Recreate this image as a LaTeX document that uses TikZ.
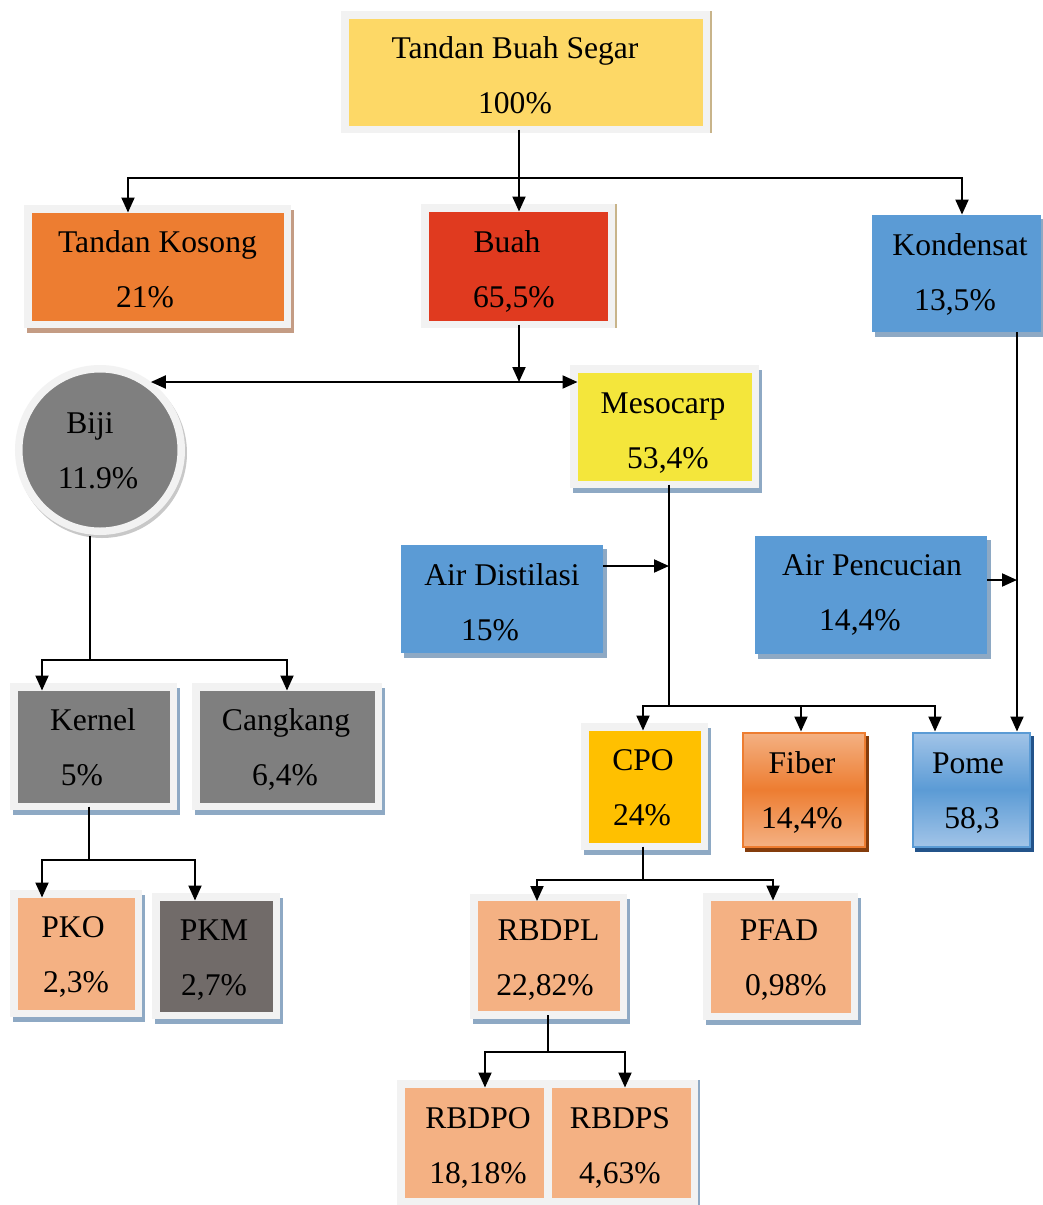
\documentclass[tikz,border=0pt]{standalone}
\usepackage{fontspec}
\setmainfont{Liberation Serif}
\usetikzlibrary{arrows.meta,calc}
\definecolor{frameC}{HTML}{F2F2F2}
\definecolor{tbsC}{HTML}{FDD866}
\definecolor{tkC}{HTML}{ED7D31}
\definecolor{buahC}{HTML}{E03A1F}
\definecolor{blueC}{HTML}{5B9BD5}
\definecolor{grayC}{HTML}{7F7F7F}
\definecolor{mesoC}{HTML}{F4E63B}
\definecolor{cpoC}{HTML}{FFC000}
\definecolor{peachC}{HTML}{F4B183}
\definecolor{pkmC}{HTML}{716B69}
\definecolor{shB}{HTML}{8EA9C4}
\definecolor{brC}{HTML}{C49C84}
\definecolor{tanC}{HTML}{C8B48A}
\definecolor{shG}{HTML}{C8C8C8}
\definecolor{fibL}{HTML}{F4B183}
\definecolor{fibS}{HTML}{843C0C}
\definecolor{pomL}{HTML}{A2C4E8}
\definecolor{pomS}{HTML}{23538A}
% #1: vertical shift (pt, down), #2 line1, #3 dx1, #4 line2, #5 dx2
\newcommand\tx[5][1]{\hspace*{#3pt}\rule{0pt}{\dimexpr15.4pt+#1pt*2\relax}#2\\\hspace*{#5pt}\rule[-5pt]{0pt}{5pt}#4}
\begin{document}
\begin{tikzpicture}[x=0.5pt,y=-0.5pt,
  box/.style={inner sep=0pt, align=center, font=\fontsize{15.8pt}{27.5pt}\selectfont},
  framed/.style={box, draw=frameC, line width=3.75pt, outer sep=-1.875pt, fill=#1},
  plainbox/.style={box, fill=#1},
  shd/.style n args={3}{preaction={draw=#1, fill=#1, transform canvas={xshift=#2, yshift=#3}}},
  ln/.style={line width=1pt},
  arr/.style={line width=1pt, -{Triangle[length=7.5pt,width=6.5pt]}},
]
\fill[white] (0,0) rectangle (1043,1205);
\useasboundingbox (0,0) rectangle (1043,1205);

% nodes
\node[framed=tbsC, shd={tanC}{1pt}{0pt}, minimum width=180.75pt, minimum height=57.25pt] (tbs) at (525.5,72) {\tx[1.75]{Tandan Buah Segar}{-10.5}{100\%}{-10.5}};
\node[framed=tkC, shd={brC}{1.5pt}{-2.5pt}, minimum width=129.75pt, minimum height=57.75pt] (tk) at (157.5,266.5) {\tx[1.5]{Tandan Kosong}{0}{21\%}{-12.5}};
\node[framed=buahC, shd={tanC}{1pt}{0pt}, minimum width=93.25pt, minimum height=58.25pt] (buah) at (518,266) {\tx[1.75]{Buah}{-11}{65,5\%}{-4}};
\node[plainbox=blueC, shd={shB}{1.5pt}{-2pt}, minimum width=84.5pt, minimum height=58.5pt] (kond) at (956.5,273.5) {\tx[-0.5]{Kondensat}{3.5}{13,5\%}{-1.5}};
\node[framed=grayC, circle, shd={shG}{1pt}{-1.5pt}, minimum size=81.25pt] (biji) at (100,450) {\tx[0.5]{Biji}{-10}{11.9\%}{-2}};
\node[framed=mesoC, shd={shB}{1.5pt}{-2.5pt}, minimum width=90.75pt, minimum height=57.75pt] (meso) at (664.5,426.5) {\tx[2.25]{Mesocarp}{-1.5}{53,4\%}{3.5}};
\node[plainbox=blueC, shd={shB}{1.5pt}{-2pt}, minimum width=101pt, minimum height=54pt] (aird) at (502,599) {\tx[1.75]{Air Distilasi}{0}{15\%}{-12}};
\node[plainbox=blueC, shd={shB}{1.5pt}{-2pt}, minimum width=116pt, minimum height=59pt] (airp) at (871,595) {\tx[-1]{Air Pencucian}{1}{14,4\%}{-11}};
\node[framed=grayC, shd={shB}{1.5pt}{-2.5pt}, minimum width=79.75pt, minimum height=59.75pt] (kernel) at (93.5,746.5) {\tx[0.5]{Kernel}{-0.5}{5\%}{-11.5}};
\node[framed=grayC, shd={shB}{1.5pt}{-2.5pt}, minimum width=91.25pt, minimum height=59.75pt] (cang) at (287,746.5) {\tx[0.5]{Cangkang}{-1}{6,4\%}{-2}};
\node[framed=cpoC, shd={shB}{1.5pt}{-2.5pt}, minimum width=59.75pt, minimum height=59.75pt] (cpo) at (644.5,786.5) {\tx[0.75]{CPO}{-1.5}{24\%}{-2.5}};
\node[box, draw=tkC, line width=1pt, top color=fibL, bottom color=fibL, middle color=tkC, shd={fibS}{1.5pt}{-2pt}, minimum width=61pt, minimum height=57pt] (fiber) at (803.5,789.5) {\tx[0.75]{Fiber}{-1.5}{14,4\%}{-1.5}};
\node[box, draw=blueC, line width=1pt, top color=pomL, bottom color=pomL, middle color=blueC, shd={pomS}{1.5pt}{-2pt}, minimum width=58.5pt, minimum height=57pt] (pome) at (971,789.5) {\tx[0.75]{Pome}{-3}{58,3}{1}};
\node[framed=peachC, shd={shB}{1.5pt}{-2.5pt}, minimum width=62.25pt, minimum height=59.75pt] (pko) at (76,953.5) {\tx[0.5]{PKO}{-3}{2,3\%}{0}};
\node[framed=pkmC, shd={shB}{1.5pt}{-2.5pt}, minimum width=60.25pt, minimum height=59.25pt] (pkm) at (216,956) {\tx[0.75]{PKM}{-2}{2,7\%}{-2}};
\node[framed=peachC, shd={shB}{1.5pt}{-2.5pt}, minimum width=74.75pt, minimum height=58.75pt] (rbdpl) at (548.5,956) {\tx[0.75]{RBDPL}{0}{22,82\%}{-3.5}};
\node[framed=peachC, shd={shB}{1.5pt}{-2.5pt}, minimum width=73.75pt, minimum height=59.75pt] (pfad) at (780.5,956.5) {\tx[0.5]{PFAD}{-1.5}{0,98\%}{5.5}};
\node[framed=peachC, minimum width=73.75pt, minimum height=58.75pt] (rbdpo) at (474.5,1142.5) {\tx[1.5]{RBDPO}{3.5}{18,18\%}{3.5}};
\node[framed=peachC, shd={shB}{1pt}{0pt}, minimum width=73.25pt, minimum height=58.75pt] (rbdps) at (621,1142.5) {\tx[1.5]{RBDPS}{-1}{4,63\%}{-1}};

% connectors
\coordinate (j1) at (519,178);
\draw[ln] ($(tbs.south)+(-6.5,4)$) -- (j1);
\draw[arr] (j1) -| ($(tk.north)+(-29.5,0)$);
\draw[arr] (j1) -- ($(buah.north)+(1,0)$);
\draw[arr] (j1) -| ($(kond.north)+(5.5,0)$);

\coordinate (j2) at (519,382);
\draw[arr] ($(buah.south)+(1,4)$) -- (j2);
\draw[arr] (j2) -- (j2 -| biji.49.5);
\draw[arr] (j2) -- (j2 -| meso.west);

\coordinate (j3) at (669,706);
\draw[ln] ($(meso.south)+(4.5,4)$) -- (j3);
\draw[arr] (j3) -| ($(cpo.north)+(-1.5,0)$);
\draw[arr] (j3) -| ($(fiber.north)+(-2.5,0)$);
\draw[arr] (j3) -| ($(pome.north)+(-36,0)$);
\coordinate (a1) at ($(aird.east)+(0,-33)$);
\draw[arr] (a1) -- (a1 -| j3);

\coordinate (k1) at ($(kond.south)+(60.5,0)$);
\draw[arr] (k1) -- ($(pome.north)+(46,0)$);
\coordinate (a2) at ($(airp.east)+(0,-15)$);
\draw[arr] (a2) -- (a2 -| k1);

\coordinate (j4) at (90,660);
\draw[ln] ($(biji.south)+(-10,8)$) -- (j4);
\draw[arr] (j4) -| ($(kernel.north)+(-51.5,0)$);
\draw[arr] (j4) -| (cang.north);

\coordinate (j5) at (89,860);
\draw[ln] ($(kernel.south)+(-4.5,4)$) -- (j5);
\draw[arr] (j5) -| ($(pko.north)+(-34,0)$);
\draw[arr] (j5) -| ($(pkm.north)+(-21,0)$);

\coordinate (j6) at (643,880);
\draw[ln] ($(cpo.south)+(-1.5,4)$) -- (j6);
\draw[arr] (j6) -| ($(rbdpl.north)+(-11.5,0)$);
\draw[arr] (j6) -| ($(pfad.north)+(-7.5,0)$);

\coordinate (j7) at (548,1052);
\draw[ln] ($(rbdpl.south)+(-0.5,4)$) -- (j7);
\draw[arr] (j7) -| ($(rbdpo.north)+(10.5,0)$);
\draw[arr] (j7) -| ($(rbdps.north)+(4,0)$);
\end{tikzpicture}
\end{document}
